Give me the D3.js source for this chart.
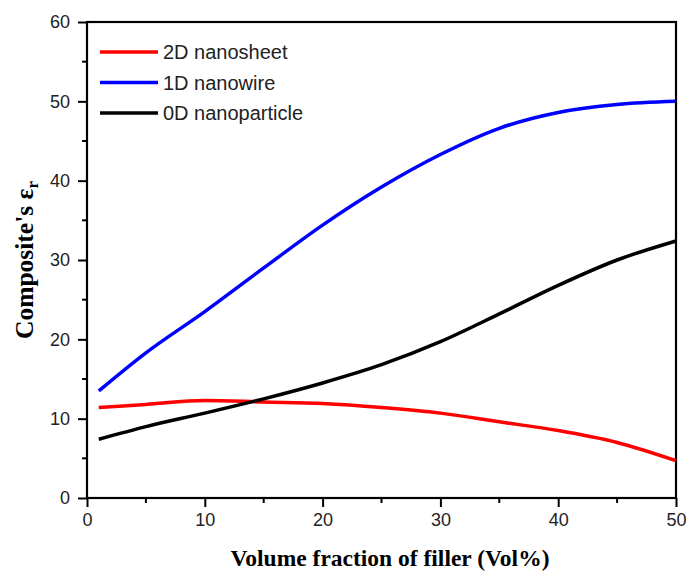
<!DOCTYPE html>
<head>
    <title>Composite permittivity vs filler fraction</title>
    <script src="https://d3js.org/d3.v7.min.js"></script>
</head>
<style>
body { margin: 0; background: #fff; }
</style>
<body>
    <svg></svg>
</body>
<script>
    // Data
    var fraction = [1, 5, 10, 15, 20, 25, 30, 35, 40, 45, 50];
    var sheet2D = [11.4, 11.8, 12.3, 12.1, 11.9, 11.4, 10.7, 9.6, 8.5, 7.0, 4.7];
    var wire1D = [13.5, 18.3, 23.5, 29.0, 34.4, 39.2, 43.3, 46.6, 48.6, 49.6, 50.0];
    var particle0D = [7.4, 9.0, 10.7, 12.5, 14.5, 16.8, 19.7, 23.2, 26.8, 30.0, 32.4];
    var seriesNames = ["2D nanosheet", "1D nanowire", "0D nanoparticle"];
    var seriesColors = ["#ff0000", "#0000ff", "#000000"];
    var xTicks = [0, 10, 20, 30, 40, 50];
    var yTicks = [0, 10, 20, 30, 40, 50, 60];

    var width = 686, height = 572;
    // plot box (note: "top" is reserved on window, so use a prefix)
    var pLeft = 87, pRight = 676, pTop = 22, pBottom = 498;

    var svg = d3.select('svg').attr('width', width).attr('height', height);

    var x = d3.scaleLinear().domain([0, 50]).range([pLeft, pRight]);
    var y = d3.scaleLinear().domain([0, 60]).range([pBottom, pTop]);

    // minor ticks (outward, short)
    var g = svg.append('g');
    d3.range(5, 50, 10).forEach(function (v) {
        g.append('line').attr('x1', x(v)).attr('x2', x(v)).attr('y1', pBottom).attr('y2', pBottom + 5)
            .attr('stroke', '#000').attr('stroke-width', 2);
    });
    d3.range(5, 60, 10).forEach(function (v) {
        g.append('line').attr('y1', y(v)).attr('y2', y(v)).attr('x1', pLeft).attr('x2', pLeft - 5)
            .attr('stroke', '#000').attr('stroke-width', 2);
    });

    var xAxis = svg.append('g').attr('transform', 'translate(0,' + pBottom + ')')
        .call(d3.axisBottom(x).tickValues(xTicks).tickSize(9).tickPadding(6).tickFormat(d3.format('d')));
    var yAxis = svg.append('g').attr('transform', 'translate(' + pLeft + ',0)')
        .call(d3.axisLeft(y).tickValues(yTicks).tickSize(9).tickPadding(8).tickFormat(d3.format('d')));
    [xAxis, yAxis].forEach(function (a) {
        a.select('.domain').remove();
        a.selectAll('line').attr('stroke-width', 2);
        a.selectAll('text').attr('font-family', 'Liberation Sans, Arial, sans-serif')
            .attr('font-size', 18).attr('fill', '#222');
    });

    // frame
    svg.append('rect').attr('x', pLeft).attr('y', pTop).attr('width', pRight - pLeft).attr('height', pBottom - pTop)
        .attr('fill', 'none').attr('stroke', '#000').attr('stroke-width', 2.2);

    var line = d3.line()
        .x(function (d, i) { return x(fraction[i]); })
        .y(function (d) { return y(d); })
        .curve(d3.curveMonotoneX);

    [sheet2D, wire1D, particle0D].forEach(function (s, i) {
        svg.append('path').attr('d', line(s)).attr('fill', 'none')
            .attr('stroke', seriesColors[i]).attr('stroke-width', 3.5);
    });

    // legend
    var legend = svg.append('g');
    seriesNames.forEach(function (name, i) {
        var ly = 52 + i * 30.5;
        legend.append('line').attr('x1', 100).attr('x2', 158).attr('y1', ly).attr('y2', ly)
            .attr('stroke', seriesColors[i]).attr('stroke-width', 3.5);
        legend.append('text').attr('x', 163).attr('y', ly + 7).text(name)
            .attr('font-family', 'Liberation Sans, Arial, sans-serif').attr('font-size', 20).attr('fill', '#222');
    });

    // axis titles
    svg.append('text').attr('x', 390).attr('y', 566).attr('text-anchor', 'middle')
        .attr('font-family', 'Liberation Serif, Times New Roman, serif').attr('font-weight', 'bold')
        .attr('font-size', 23.5).text('Volume fraction of filler (Vol%)');

    var yt = svg.append('text').attr('transform', 'translate(33,260)rotate(-90)').attr('text-anchor', 'middle')
        .attr('font-family', 'Liberation Serif, Times New Roman, serif').attr('font-weight', 'bold')
        .attr('font-size', 25.5);
    yt.append('tspan').text("Composite's ε");
    yt.append('tspan').attr('font-size', 17).attr('dy', 5).text('r');
</script>
